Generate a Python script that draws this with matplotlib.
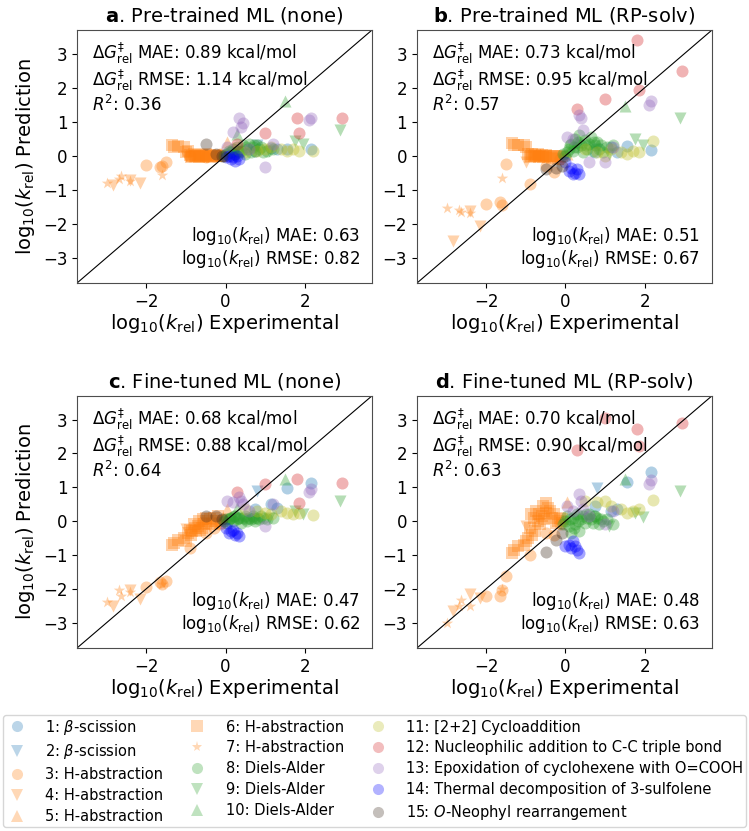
# %% Import

import numpy as np
import matplotlib.pyplot as plt
from matplotlib.lines import Line2D


# %% Data

names = ["1: $\\beta$-scission", "2: $\\beta$-scission", "3: H-abstraction",
         "4: H-abstraction", "5: H-abstraction", "6: H-abstraction",
         "7: H-abstraction", "8: Diels-Alder", "9: Diels-Alder",
         "10: Diels-Alder", "11: [2+2] Cycloaddition",
         "12: Nucleophilic addition to C-C triple bond",
         "13: Epoxidation of cyclohexene with O=COOH",
         "14: Thermal decomposition of 3-sulfolene",
         "15: $O$-Neophyl rearrangement"]
markers = ["o", "v", "o", "v", "^", "s", "*", "o", "v", "^", "o", "o", "o", "o", "o"]
colors = ["tab:blue", "tab:blue", "tab:orange", "tab:orange", "tab:orange",
          "tab:orange", "tab:orange", "tab:green", "tab:green", "tab:green",
          "tab:olive", "tab:red", "tab:purple", "blue", "#3d2b1f"]

# experimental log10(k_rel), per reaction family
x1 = [0.75, 1.15, 1.3, 1.55, 2.15]
x2 = [0.8]
x3 = [-2.0, -1.65, -1.6, -1.5, -0.9, -0.5, -0.3, -0.15, -0.05]
x4 = [-2.85, -2.4, -2.15, -1.0]
x5 = [0.05]
x6 = [-1.35, -1.3, -1.2, -1.05, -1.0, -0.95, -0.9, -0.88, -0.85, -0.8,
      -0.78, -0.75, -0.7, -0.68, -0.65, -0.6, -0.58, -0.55, -0.5, -0.48,
      -0.45, -0.4, -0.35, -0.3, -0.25, -0.2, -0.15, -0.1]
x7 = [-3.0, -2.7, -2.65, -2.4, -1.6]
x8 = [-0.05, 0.0, 0.05, 0.1, 0.12, 0.15, 0.2, 0.22, 0.25, 0.3,
      0.32, 0.35, 0.4, 0.45, 0.5, 0.52, 0.55, 0.6, 0.65, 0.7,
      0.72, 0.75, 0.8, 0.85, 0.9, 0.95, 1.05, 1.2]
x9 = [1.1, 1.75, 1.95, 2.9]
x10 = [0.3, 1.5]
x11 = [0.5, 0.8, 1.0, 1.15, 1.4, 1.55, 1.7, 1.85, 2.2]
x12 = [0.3, 1.0, 1.8, 1.85, 2.95]
x13 = [0.05, 0.2, 0.35, 0.4, 0.45, 0.6, 1.0, 1.2, 2.1, 2.15]
x14 = [0.0, 0.1, 0.15, 0.2, 0.25, 0.3, 0.35]
x15 = [-0.5, -0.25, -0.1]
x_all = [x1, x2, x3, x4, x5, x6, x7, x8, x9, x10, x11, x12, x13, x14, x15]

# predictions, panel a: pre-trained (none)
ya = [[0.15, 0.22, 0.2, 0.2, 0.2],
      [0.3],
      [-0.27, -0.32, -0.3, -0.2, 0.0, -0.05, 0.0, 0.05, 0.0],
      [-0.85, -0.72, -0.8, 0.0],
      [0.4],
      [0.32, 0.25, 0.28, 0.25, 0.1, 0.15, 0.02, -0.05, 0.0, 0.05,
       -0.02, 0.0, 0.03, -0.05, 0.0, 0.02, -0.03, 0.0, 0.05, -0.02,
       0.0, 0.02, -0.03, 0.0, 0.02, -0.02, 0.0, 0.0],
      [-0.8, -0.7, -0.6, -0.75, -0.58],
      [0.0, 0.05, 0.05, 0.15, 0.1, 0.1, 0.2, 0.05, 0.05, 0.25,
       0.15, 0.1, 0.15, 0.3, 0.05, 0.25, 0.2, 0.35, 0.1, 0.25,
       0.3, 0.15, 0.3, 0.2, 0.25, 0.1, 0.15, 0.2],
      [0.15, 0.42, 0.33, 0.77],
      [0.65, 1.62],
      [0.1, 0.15, 0.2, 0.25, 0.2, 0.15, 0.2, 0.15, 0.15],
      [0.35, 0.67, 1.12, 0.67, 1.12],
      [0.25, 0.7, 1.1, 0.85, 0.95, 0.2, -0.32, 0.35, 1.05, 1.1],
      [-0.05, 0.0, -0.1, -0.05, -0.15, 0.0, -0.1],
      [0.35, 0.05, 0.0]]

# panel b: pre-trained (RP-solv)
yb = [[0.1, 0.25, 0.1, 0.28, 0.18],
      [0.2],
      [-1.42, -1.37, -1.45, -0.25, -0.83, -0.3, -0.48, -0.1, 0.0],
      [-2.5, -1.62, -2.08, -0.2],
      [0.05],
      [0.38, 0.3, 0.32, 0.3, 0.25, 0.05, -0.05, 0.0, 0.05, -0.02,
       0.02, 0.0, 0.05, -0.05, 0.0, 0.03, -0.05, 0.0, -0.02, 0.02,
       -0.05, 0.0, -0.08, -0.02, 0.0, -0.1, -0.05, 0.0],
      [-1.55, -1.6, -1.65, -1.7, -0.65],
      [0.05, 0.0, 0.1, 0.2, 0.3, 0.35, 0.15, 0.25, 0.5, 0.25,
       0.4, 0.6, 0.3, 0.1, 0.45, 0.3, 0.2, 0.35, 0.55, 0.15,
       0.4, 0.3, 0.4, 0.2, 0.3, 0.1, 0.25, 0.3],
      [0.05, 0.5, 0.3, 1.1],
      [0.4, 1.45],
      [0.2, 0.1, 0.0, 0.2, 0.1, 0.05, 0.15, 0.1, 0.42],
      [1.37, 1.68, 3.4, 1.94, 2.5],
      [0.55, 0.5, 1.2, 1.1, 0.75, -0.2, -0.2, 0.25, 1.5, 1.6],
      [-0.2, -0.45, -0.35, -0.55, -0.5, -0.4, -0.55],
      [-0.38, -0.35, -0.3]]

# panel c: fine-tuned (none)
yc = [[0.37, 0.5, 0.39, 0.98, 1.13],
      [0.88],
      [-1.95, -1.8, -1.85, -1.77, -0.8, -0.35, -0.2, -0.1, 0.05],
      [-2.52, -2.05, -2.3, -0.22],
      [0.35],
      [-0.7, -0.65, -0.55, -0.5, -0.6, -0.35, -0.25, -0.4, -0.3, -0.1,
       -0.2, -0.3, -0.15, 0.0, -0.25, -0.2, 0.05, -0.1, -0.05, 0.1,
       0.0, 0.05, -0.1, 0.1, 0.0, 0.15, -0.05, 0.0],
      [-2.38, -2.05, -2.2, -2.1, -1.85],
      [0.0, 0.05, -0.05, 0.05, 0.1, 0.1, 0.0, 0.15, 0.15, 0.05,
       0.1, 0.1, -0.05, 0.1, 0.15, 0.05, 0.0, 0.1, 0.05, 0.15,
       0.1, 0.0, 0.1, 0.05, 0.15, 0.1, 0.05, 0.1],
      [0.1, 0.3, 0.22, 0.6],
      [0.4, 1.25],
      [0.35, 0.3, 0.25, 0.2, 0.3, 0.25, 0.2, 0.25, 0.18],
      [0.86, 1.1, 1.25, 0.54, 1.13],
      [0.6, 0.55, 0.72, 0.6, 0.5, 0.3, -0.15, 0.5, 0.85, 0.95],
      [-0.2, -0.35, -0.3, -0.25, -0.4, -0.35, -0.45],
      [0.15, 0.15, 0.05]]

# panel d: fine-tuned (RP-solv)
yd = [[0.45, 0.3, 0.35, 1.15, 1.45],
      [0.98],
      [-2.2, -2.2, -2.05, -1.63, -0.99, -0.35, -0.4, -0.1, 0.0],
      [-2.67, -2.16, -2.26, -0.14],
      [0.55],
      [-0.93, -0.85, -0.75, -0.7, -0.6, -0.5, -0.2, 0.2, -0.4, 0.1,
       -0.3, 0.3, 0.0, 0.2, -0.1, 0.15, 0.45, 0.05, 0.52, 0.25,
       0.4, 0.3, 0.1, 0.2, -0.05, 0.0, 0.1, 0.05],
      [-3.02, -2.5, -2.34, -2.52, -2.0],
      [-0.1, 0.0, 0.15, -0.15, 0.05, -0.35, 0.1, -0.2, -0.1, 0.2,
       0.0, -0.3, 0.05, 0.15, -0.05, 0.2, 0.1, 0.2, 0.05, -0.05,
       0.15, 0.15, 0.1, -0.1, 0.05, 0.0, 0.05, -0.1],
      [-0.16, 0.23, 0.13, 0.9],
      [0.25, 1.25],
      [0.6, 0.55, 0.6, 0.45, 0.35, 0.25, 0.3, 0.35, 0.62],
      [2.1, 3.05, 2.73, 2.22, 2.9],
      [0.45, 0.3, 0.8, 0.6, 0.35, 0.15, -0.1, 0.3, 1.1, 1.2],
      [-0.75, -0.7, -0.8, -0.6, -0.75, -0.85, -0.95],
      [-0.9, -0.55, -0.35]]

titles = ["Pre-trained ML (none)", "Pre-trained ML (RP-solv)",
          "Fine-tuned ML (none)", "Fine-tuned ML (RP-solv)"]
letters = ["a", "b", "c", "d"]
dg_mae = ["0.89", "0.73", "0.68", "0.70"]
dg_rmse = ["1.14", "0.95", "0.88", "0.90"]
r2 = ["0.36", "0.57", "0.64", "0.63"]
k_mae = ["0.63", "0.51", "0.47", "0.48"]
k_rmse = ["0.82", "0.67", "0.62", "0.63"]
y_panels = [ya, yb, yc, yd]


# %% Plotting

fig = plt.figure(figsize=(7.49, 8.31), dpi=100)
positions = [[0.1028, 0.6594, 0.3939, 0.3045],
             [0.5567, 0.6594, 0.3939, 0.3045],
             [0.1028, 0.2202, 0.3939, 0.3035],
             [0.5567, 0.2202, 0.3939, 0.3035]]
lim = (-3.75, 3.7)
klog = r"$\mathrm{log}_{10}(k_{\mathrm{rel}})$"

for p in range(4):
    ax = fig.add_axes(positions[p])
    for i in range(15):
        ax.scatter(x_all[i], y_panels[p][i], marker=markers[i], color=colors[i],
                   alpha=0.35, s=75, linewidths=0)
    ax.plot(lim, lim, color="black", lw=0.8)
    ax.set_xlim(lim)
    ax.set_ylim(lim)
    ax.set_xticks([-2, 0, 2])
    ax.set_yticks([-3, -2, -1, 0, 1, 2, 3])
    ax.tick_params(labelsize=12)
    for sp in ax.spines.values():
        sp.set_edgecolor("0.3")
    ax.set_title(r"$\bf{" + letters[p] + "}$. " + titles[p], fontsize=14)
    ax.set_xlabel(klog + " Experimental", fontsize=14, labelpad=1)
    if p % 2 == 0:
        ax.set_ylabel(klog + " Prediction", fontsize=14)
    txt = (r"$\Delta G^{\ddagger}_{\mathrm{rel}}$ MAE: " + dg_mae[p] + " kcal/mol\n"
           + r"$\Delta G^{\ddagger}_{\mathrm{rel}}$ RMSE: " + dg_rmse[p] + " kcal/mol\n"
           + r"$R^2$: " + r2[p])
    ax.text(0.05, 0.96, txt, transform=ax.transAxes, va="top", ha="left",
            fontsize=12, linespacing=1.1)
    txt2 = (klog + " MAE: " + k_mae[p] + "\n" + klog + " RMSE: " + k_rmse[p])
    ax.text(0.96, 0.05, txt2, transform=ax.transAxes, va="bottom", ha="right",
            fontsize=12, multialignment="right", linespacing=1.1)

handles = [Line2D([], [], marker=markers[i], color=colors[i], alpha=0.3, ls="",
                  markersize=8, markeredgewidth=0) for i in range(15)]
fig.legend(handles, names, ncol=3, loc="lower left",
           bbox_to_anchor=(0.004, 0.005, 0.992, 0.13), mode="expand",
           borderaxespad=0, fontsize=10.5, frameon=True, handlelength=1.5,
           handletextpad=1.2, labelspacing=0.4, borderpad=0.2)

plt.savefig("out.png", dpi=100)
